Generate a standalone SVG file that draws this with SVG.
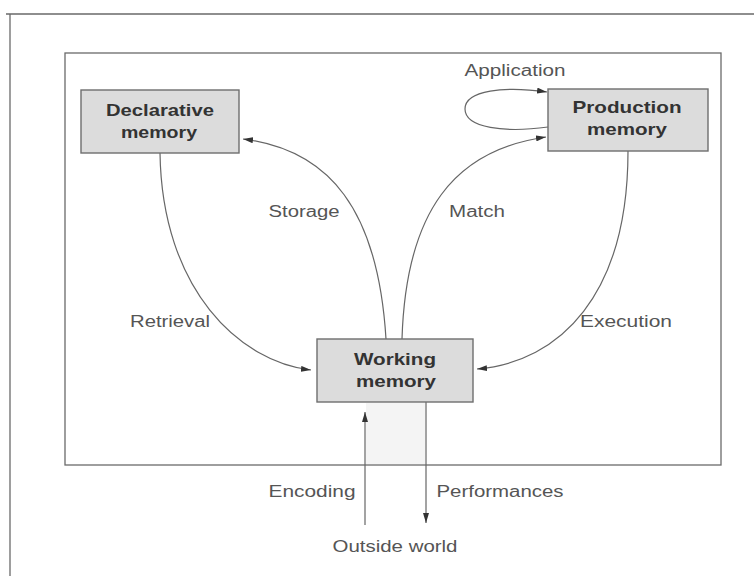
<svg xmlns="http://www.w3.org/2000/svg" width="754" height="576" viewBox="0 0 754 576">
<style>
.frame{fill:none;stroke:#6a6a6a;stroke-width:1.3}
.box{fill:#dcdcdc;stroke:#6e6e6e;stroke-width:1.4}
.bt{font-family:"Liberation Sans",Arial,sans-serif;font-weight:bold;font-size:17px;fill:#333;text-anchor:middle}
.lb{font-family:"Liberation Sans",Arial,sans-serif;font-size:16px;fill:#555;text-anchor:middle}
.conn{fill:none;stroke:#666;stroke-width:1.2}
</style>
<defs>
<marker id="ah" viewBox="0 0 10 6" refX="10" refY="3" markerWidth="10" markerHeight="6" markerUnits="userSpaceOnUse" orient="auto">
<path d="M0,0 L10,3 L0,6 Z" fill="#333"/>
</marker>
</defs>
<rect width="754" height="576" fill="#fff"/>
<g id="frame">
<path class="frame" d="M6,14 L754,14 M10,14 L10,576"/>
<rect class="frame" x="65" y="53" width="656" height="412"/>
<rect x="366" y="403" width="59" height="61" fill="#f4f4f4"/>
</g>
<g id="connectors">
<path class="conn" d="M160,153 C162,290 240,362 311,370" marker-end="url(#ah)"/>
<path class="conn" d="M386,339 C378,210 330,150 243,139" marker-end="url(#ah)"/>
<path class="conn" d="M402,339 C406,210 455,150 546,137" marker-end="url(#ah)"/>
<path class="conn" d="M628,151 C628,295 560,362 477,369" marker-end="url(#ah)"/>
<path class="conn" d="M548,127 C505,133 465,128 465,109 C465,90 505,86 547,92" marker-end="url(#ah)"/>
<path class="conn" d="M365,525 L365,412" marker-end="url(#ah)"/>
<path class="conn" d="M426,402 L426,523" marker-end="url(#ah)"/>
</g>
<g id="declarative-memory">
<rect class="box" x="81" y="90" width="158" height="63"/>
<text class="bt" x="160" y="116" textLength="108" lengthAdjust="spacingAndGlyphs">Declarative</text>
<text class="bt" x="159" y="138" textLength="76" lengthAdjust="spacingAndGlyphs">memory</text>
</g>
<g id="production-memory">
<rect class="box" x="548" y="89" width="160" height="62"/>
<text class="bt" x="627" y="113" textLength="109" lengthAdjust="spacingAndGlyphs">Production</text>
<text class="bt" x="627" y="135" textLength="80" lengthAdjust="spacingAndGlyphs">memory</text>
</g>
<g id="working-memory">
<rect class="box" x="317" y="339" width="156" height="63"/>
<text class="bt" x="395" y="365" textLength="82" lengthAdjust="spacingAndGlyphs">Working</text>
<text class="bt" x="396" y="387" textLength="80" lengthAdjust="spacingAndGlyphs">memory</text>
</g>
<g id="labels">
<text class="lb" x="515" y="76" textLength="101" lengthAdjust="spacingAndGlyphs">Application</text>
<text class="lb" x="304" y="217" textLength="71" lengthAdjust="spacingAndGlyphs">Storage</text>
<text class="lb" x="477" y="217" textLength="56" lengthAdjust="spacingAndGlyphs">Match</text>
<text class="lb" x="170" y="327" textLength="80" lengthAdjust="spacingAndGlyphs">Retrieval</text>
<text class="lb" x="626" y="327" textLength="92" lengthAdjust="spacingAndGlyphs">Execution</text>
<text class="lb" x="312" y="497" textLength="87" lengthAdjust="spacingAndGlyphs">Encoding</text>
<text class="lb" x="500" y="497" textLength="127" lengthAdjust="spacingAndGlyphs">Performances</text>
</g>
<g id="outside-world">
<text class="lb" x="395" y="552" textLength="125" lengthAdjust="spacingAndGlyphs">Outside world</text>
</g>
</svg>
